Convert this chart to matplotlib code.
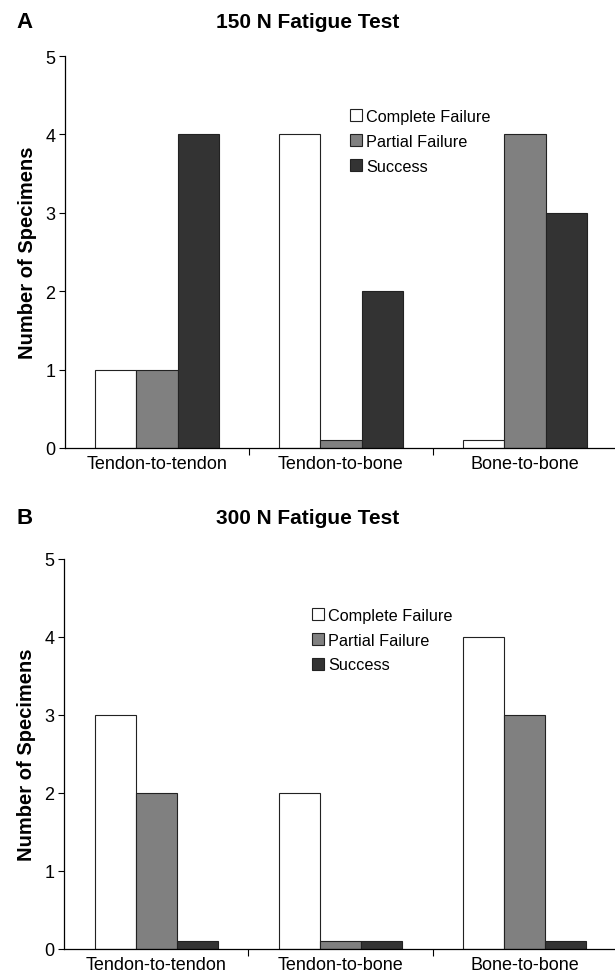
import matplotlib
matplotlib.use("Agg")
import matplotlib.pyplot as plt
import numpy as np

plt.rcParams['font.family'] = ['Liberation Sans', 'DejaVu Sans']

categories = ["Tendon-to-tendon", "Tendon-to-bone", "Bone-to-bone"]
series = ["Complete Failure", "Partial Failure", "Success"]
vals_150 = {
    "Complete Failure": [1, 4, 0.1],
    "Partial Failure": [1, 0.1, 4],
    "Success": [4, 2, 3],
}
vals_300 = {
    "Complete Failure": [3, 2, 4],
    "Partial Failure": [2, 0.1, 3],
    "Success": [0.1, 0.1, 0.1],
}
colors = ["#ffffff", "#808080", "#333333"]
titles = ["150 N Fatigue Test", "300 N Fatigue Test"]
panel_letters = ["A", "B"]
yticks = [0, 1, 2, 3, 4, 5]

fig = plt.figure(figsize=(6.15, 9.79), dpi=100)
W, H = 615, 979

def px(x0, y0, x1, y1):
    return [x0 / W, 1 - y1 / H, (x1 - x0) / W, (y1 - y0) / H]

axes_rects = [px(65, 57, 617, 449), px(64, 560, 617, 950)]
legend_anchor = [(350, 110), (312, 609)]
title_y = [23, 519]

x = np.arange(len(categories))
bw = 0.223
for k, (vals, rect) in enumerate(zip([vals_150, vals_300], axes_rects)):
    ax = fig.add_axes(rect)
    for i, s in enumerate(series):
        ax.bar(x + (i - 1) * bw, vals[s], width=bw, color=colors[i],
               edgecolor="#222222", linewidth=0.8, label=s)
    ax.set_xlim(-0.5, 2.5)
    ax.set_ylim(0, 5)
    ax.set_yticks(yticks)
    ax.tick_params(axis='y', labelsize=13, length=4, width=0.8, pad=3)
    ax.set_xticks(x)
    ax.set_xticklabels(categories, fontsize=13)
    ax.tick_params(axis='x', length=0, pad=5)
    ax.set_xticks([0.5, 1.5], minor=True)
    ax.tick_params(axis='x', which='minor', length=5, width=0.8, direction='out')
    for sp in ['top', 'right']:
        ax.spines[sp].set_visible(False)
    ax.spines['left'].set_linewidth(0.9)
    ax.spines['bottom'].set_linewidth(0.9)
    ax.set_ylabel("Number of Specimens", fontsize=14.5, fontweight='bold', labelpad=6)
    lx, ly = legend_anchor[k]
    leg = ax.legend(loc='upper left', bbox_to_anchor=(lx / W, 1 - ly / H),
                    bbox_transform=fig.transFigure, frameon=False, fontsize=11.7,
                    handlelength=0.75, handleheight=0.75, handletextpad=0.25,
                    labelspacing=0.6, borderaxespad=0, borderpad=0)
    fig.text(0.5, 1 - title_y[k] / H, titles[k], ha='center', va='center',
             fontsize=15, fontweight='bold')
    fig.text(16 / W, 1 - title_y[k] / H, panel_letters[k], ha='left', va='center',
             fontsize=16, fontweight='bold')

fig.savefig("out.png", dpi=100)
